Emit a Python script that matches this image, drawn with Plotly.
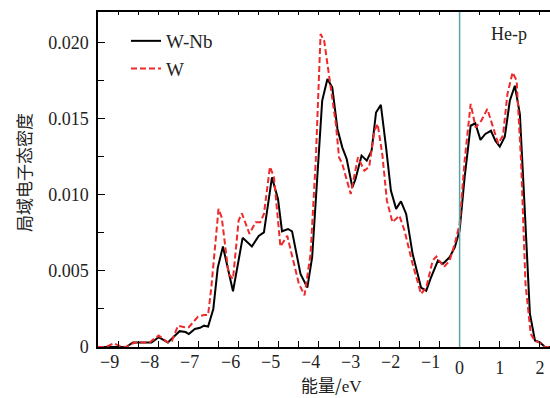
import plotly.graph_objects as go

# ---- data ----
x_wnb = [-9.0, -8.3, -8.13, -7.67, -7.49, -7.26, -6.97, -6.82, -6.74, -6.59, -6.46, -6.36, -6.26, -6.13,
         -6.02, -5.89, -5.64, -5.40, -5.17, -5.0, -4.87, -4.67, -4.52, -4.42, -4.27, -4.17, -3.96, -3.79,
         -3.67, -3.42, -3.29, -3.17, -3.04, -2.92, -2.81, -2.67, -2.59, -2.44, -2.31, -2.19, -2.08, -1.96,
         -1.83, -1.71, -1.58, -1.46, -1.33, -1.17, -0.96, -0.83, -0.71, -0.54, -0.42, -0.25, -0.12, 0.0,
         0.125, 0.275, 0.39, 0.52, 0.64, 0.78, 0.89, 1.0, 1.125, 1.25, 1.375, 1.5, 1.61, 1.75, 1.875,
         2.0, 2.125, 2.3]
y_wnb = [0.0, 0.0, 0.0003, 0.0003, 0.00065, 0.0003, 0.00104, 0.00098, 0.00085, 0.00118, 0.00126, 0.0014, 0.00134, 0.0025,
         0.0052, 0.0066, 0.00366, 0.00717, 0.0066, 0.0073, 0.00753, 0.01114, 0.00972, 0.0076, 0.00775, 0.0076, 0.0048, 0.0039,
         0.0059, 0.01617, 0.0176, 0.01705, 0.01432, 0.01311, 0.01235, 0.01049, 0.01104, 0.01257, 0.01224, 0.0129, 0.0154, 0.0159,
         0.01311, 0.01027, 0.00907, 0.00957, 0.00874, 0.00612, 0.0039, 0.0037, 0.00458, 0.00568, 0.00546, 0.00589, 0.00655, 0.00764,
         0.01114, 0.01453, 0.01469, 0.0136, 0.01399, 0.0142, 0.01355, 0.01316, 0.01381, 0.01617, 0.01716, 0.0153, 0.00961, 0.00218, 0.00043,
         0.0003, 0.0, 0.0]

x_w = [-9.0, -8.85, -8.72, -8.61, -8.43, -8.3, -8.18, -8.05, -7.72, -7.49, -7.26, -7.16, -7.01, -6.84, -6.74, -6.51,
       -6.36, -6.26, -6.18, -6.0, -5.92, -5.75, -5.64, -5.5, -5.42, -5.23, -5.08, -4.96, -4.87, -4.72, -4.62,
       -4.46, -4.29, -4.12, -4.0, -3.86, -3.71, -3.58, -3.46, -3.37, -3.29, -3.17, -3.08, -3.0, -2.92, -2.71,
       -2.53, -2.37, -2.25, -2.12, -2.04, -1.92, -1.81, -1.67, -1.5, -1.37, -1.17, -0.96, -0.83, -0.67, -0.58,
       -0.39, -0.25, -0.12, 0.0, 0.125, 0.275, 0.4, 0.54, 0.69, 0.83, 0.96, 1.08, 1.19, 1.32, 1.42, 1.53,
       1.64, 1.77, 1.875, 1.98, 2.125, 2.3]
y_w = [0.0, 0.0, 0.0001, 0.00025, 0.00003, 0.0, 0.0002, 0.0003, 0.0003, 0.00075, 0.0003, 0.0004, 0.0014, 0.0013, 0.0013, 0.002,
       0.0021, 0.0021, 0.0039, 0.00907, 0.0085, 0.0048, 0.00447, 0.0083, 0.00878, 0.00743, 0.00819, 0.00819, 0.00874, 0.01184, 0.01114,
       0.0066, 0.0073, 0.00535, 0.00415, 0.0034, 0.0061, 0.01224, 0.02055, 0.0201, 0.01858, 0.01661, 0.01465, 0.01245, 0.01202, 0.01005,
       0.01245, 0.01158, 0.01184, 0.0142, 0.01465, 0.01257, 0.00961, 0.00819, 0.00863, 0.00764, 0.00546, 0.00349, 0.0039, 0.00568, 0.00594,
       0.00524, 0.00568, 0.00677, 0.00808, 0.01224, 0.01596, 0.01442, 0.01486, 0.01563, 0.01453, 0.01337, 0.01388, 0.01661, 0.01803, 0.01749, 0.01224,
       0.00415, 0.00087, 0.0004, 0.0003, 0.0, 0.0]

x_major = [-9, -8, -7, -6, -5, -4, -3, -2, -1, 0, 1, 2]
x_text = ["", "", "", "", "", "", "", "", "", "0", "1", "2"]
neg_labels = ["−9", "−8", "−7", "−6", "−5", "−4", "−3", "−2", "−1"]
y_major = [0, 0.005, 0.010, 0.015, 0.020]
y_text = ["0", "0.005", "0.010", "0.015", "0.020"]

XR = [-9.0, 2.25]
YR = [0.0, 0.022]
SERIF = "Liberation Serif"
CJK = "Noto Sans CJK SC"
TXT = "#222222"

fig = go.Figure()
fig.add_trace(go.Scatter(x=x_wnb, y=y_wnb, mode="lines", name="W-Nb",
                         line=dict(color="black", width=2)))
fig.add_trace(go.Scatter(x=x_w, y=y_w, mode="lines", name="W",
                         line=dict(color="#ee2a2a", width=2, dash="6px,3px")))

# top ticks (short) via an overlaying axis
fig.add_trace(go.Scatter(x=[XR[0]], y=[0], xaxis="x2", mode="lines", showlegend=False,
                         hoverinfo="skip", line=dict(color="rgba(0,0,0,0)")))

fig.add_shape(type="line", x0=0, x1=0, y0=0, y1=1, xref="x", yref="paper",
              line=dict(color="#5ba3a6", width=1.5))

W, H = 550, 398
ml, mr, mt, mb = 98, 0, 12, 51
pw = W - ml - mr
ph = H - mt - mb

def px2paper_x(px):
    return (px - ml) / pw

def px2paper_y(py):
    return (H - mb - py) / ph

for v, t in zip(x_major[:9], neg_labels):
    fig.add_annotation(x=v, y=px2paper_y(362), xref="x", yref="paper", text=t,
                       showarrow=False, xanchor="left", yanchor="middle",
                       font=dict(family=SERIF, size=18, color=TXT))

fig.add_annotation(x=1.23, y=0.02057, xref="x", yref="y", text="He-p", showarrow=False,
                   xanchor="center", yanchor="middle", font=dict(family=SERIF, size=18, color=TXT))

fig.add_annotation(x=px2paper_x(331), y=px2paper_y(384), xref="paper", yref="paper",
                   text="能量/<span style='font-family:Liberation Serif'>eV</span>", showarrow=False,
                   xanchor="center", yanchor="middle", font=dict(family=CJK, size=17, color=TXT))
fig.add_annotation(x=px2paper_x(23), y=px2paper_y(173), xref="paper", yref="paper",
                   text="局域电子态密度", showarrow=False, textangle=-90,
                   xanchor="center", yanchor="middle", font=dict(family=CJK, size=17, color=TXT))

fig.update_layout(
    width=W, height=H,
    margin=dict(l=ml, r=mr, t=mt, b=mb),
    paper_bgcolor="white", plot_bgcolor="white",
    font=dict(family=SERIF, size=18, color=TXT),
    showlegend=True,
    legend=dict(x=px2paper_x(126), y=px2paper_y(22), xanchor="left", yanchor="top",
                bgcolor="rgba(0,0,0,0)", font=dict(family=SERIF, size=19, color=TXT),
                tracegroupgap=0, itemwidth=30),
    xaxis=dict(range=XR, showgrid=False, zeroline=False, showline=True, linecolor="black", linewidth=1.5,
               tickmode="array", tickvals=x_major, ticktext=x_text, ticks="inside", ticklen=6,
               tickcolor="black", tickwidth=1.2, ticklabelstandoff=4,
               minor=dict(dtick=0.5, tick0=0, ticks="inside", ticklen=6, tickcolor="black", tickwidth=1.2)),
    xaxis2=dict(range=XR, overlaying="x", side="top", showgrid=False, zeroline=False, showline=True,
                linecolor="black", linewidth=1.5, tickmode="array", tickvals=x_major, ticks="inside",
                ticklen=3, tickcolor="black", showticklabels=False,
                minor=dict(dtick=0.5, tick0=0, ticks="inside", ticklen=3, tickcolor="black")),
    yaxis=dict(range=YR, showgrid=False, zeroline=False, showline=True, linecolor="black", linewidth=1.5,
               tickmode="array", tickvals=y_major, ticktext=y_text, ticks="inside", ticklen=7,
               tickcolor="black", tickwidth=1.2, ticklabelstandoff=4,
               minor=dict(dtick=0.0025, tick0=0, ticks="inside", ticklen=6, tickcolor="black", tickwidth=1.2)),
)

fig.write_html("out.html")
